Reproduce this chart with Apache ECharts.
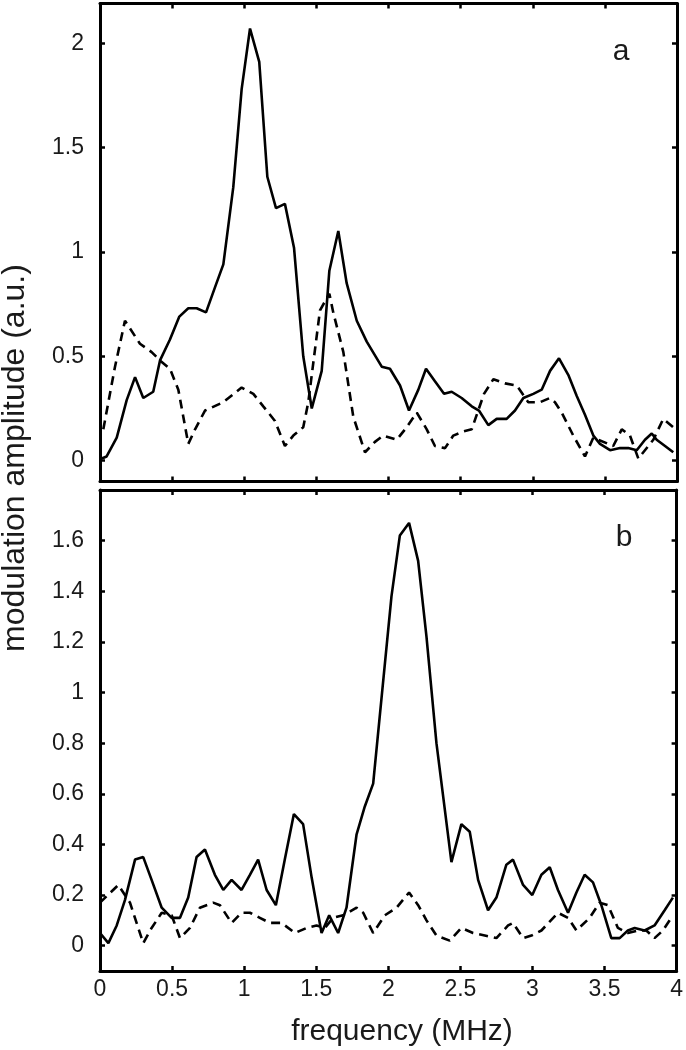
<!DOCTYPE html>
<html>
<head>
<meta charset="utf-8">
<script src="https://cdn.jsdelivr.net/npm/echarts@6/dist/echarts.min.js"></script>
<style>
  html, body { margin: 0; padding: 0; background: #fff; }
  #chart { width: 686px; height: 1050px; }
</style>
</head>
<body>
<div id="chart"></div>
<script>
// panel a, solid trace
const aSolidX = [0.012, 0.046, 0.116, 0.185, 0.243, 0.300, 0.369, 0.416, 0.485, 0.550, 0.612, 0.670, 0.735, 0.797, 0.855, 0.924, 0.982, 1.040, 1.104, 1.160, 1.220, 1.282, 1.345, 1.409, 1.468, 1.537, 1.590, 1.652, 1.710, 1.780, 1.849, 1.953, 2.010, 2.080, 2.142, 2.207, 2.260, 2.322, 2.385, 2.438, 2.507, 2.577, 2.627, 2.692, 2.750, 2.819, 2.877, 2.935, 3.004, 3.062, 3.120, 3.182, 3.247, 3.305, 3.362, 3.420, 3.466, 3.536, 3.605, 3.662, 3.721, 3.778, 3.825, 3.859, 3.917, 3.974]
const aSolidY = [0.01, 0.02, 0.11, 0.29, 0.40, 0.30, 0.33, 0.48, 0.58, 0.69, 0.73, 0.73, 0.71, 0.83, 0.94, 1.31, 1.78, 2.07, 1.91, 1.36, 1.21, 1.23, 1.02, 0.50, 0.25, 0.43, 0.91, 1.10, 0.85, 0.67, 0.57, 0.45, 0.44, 0.36, 0.24, 0.34, 0.44, 0.38, 0.32, 0.33, 0.30, 0.26, 0.24, 0.17, 0.20, 0.20, 0.24, 0.30, 0.32, 0.34, 0.43, 0.49, 0.41, 0.31, 0.22, 0.12, 0.08, 0.05, 0.06, 0.06, 0.05, 0.10, 0.13, 0.10, 0.07, 0.04]

// panel a, dashed trace
const aDashX = [0.023, 0.104, 0.173, 0.277, 0.358, 0.416, 0.485, 0.543, 0.612, 0.659, 0.728, 0.855, 0.982, 1.063, 1.132, 1.213, 1.282, 1.340, 1.409, 1.444, 1.525, 1.590, 1.617, 1.687, 1.756, 1.837, 1.906, 1.964, 2.057, 2.126, 2.196, 2.265, 2.322, 2.392, 2.449, 2.519, 2.577, 2.662, 2.727, 2.808, 2.889, 2.969, 3.050, 3.120, 3.154, 3.201, 3.281, 3.362, 3.420, 3.558, 3.617, 3.674, 3.732, 3.836, 3.905, 3.974]
const aDashY = [0.15, 0.45, 0.67, 0.56, 0.52, 0.48, 0.44, 0.34, 0.08, 0.15, 0.24, 0.28, 0.35, 0.32, 0.26, 0.19, 0.07, 0.12, 0.16, 0.28, 0.72, 0.80, 0.71, 0.52, 0.21, 0.04, 0.09, 0.12, 0.10, 0.16, 0.23, 0.15, 0.07, 0.06, 0.12, 0.14, 0.15, 0.32, 0.39, 0.37, 0.36, 0.28, 0.28, 0.30, 0.28, 0.23, 0.12, 0.02, 0.11, 0.07, 0.15, 0.12, 0.01, 0.10, 0.20, 0.16]

// panel b, solid trace
const bSolidX = [0.000, 0.058, 0.116, 0.173, 0.243, 0.300, 0.358, 0.428, 0.497, 0.555, 0.612, 0.670, 0.728, 0.797, 0.855, 0.913, 0.982, 1.040, 1.097, 1.156, 1.220, 1.282, 1.345, 1.409, 1.468, 1.537, 1.590, 1.652, 1.710, 1.780, 1.837, 1.895, 2.022, 2.080, 2.144, 2.207, 2.265, 2.334, 2.438, 2.507, 2.565, 2.623, 2.692, 2.750, 2.819, 2.865, 2.935, 2.999, 3.062, 3.120, 3.177, 3.247, 3.305, 3.362, 3.420, 3.478, 3.547, 3.605, 3.662, 3.709, 3.778, 3.847, 3.917, 3.974]
const bSolidY = [0.05, 0.01, 0.08, 0.18, 0.34, 0.35, 0.26, 0.15, 0.11, 0.11, 0.19, 0.35, 0.38, 0.28, 0.22, 0.26, 0.22, 0.28, 0.34, 0.22, 0.16, 0.34, 0.52, 0.48, 0.27, 0.05, 0.12, 0.05, 0.15, 0.44, 0.55, 0.64, 1.38, 1.62, 1.67, 1.52, 1.22, 0.80, 0.33, 0.48, 0.45, 0.26, 0.14, 0.19, 0.32, 0.34, 0.24, 0.20, 0.28, 0.31, 0.22, 0.13, 0.21, 0.28, 0.25, 0.16, 0.03, 0.03, 0.06, 0.07, 0.06, 0.08, 0.14, 0.19]

// panel b, dashed trace
const bDashX = [0.000, 0.127, 0.208, 0.300, 0.358, 0.428, 0.497, 0.555, 0.624, 0.693, 0.785, 0.832, 0.913, 0.982, 1.040, 1.109, 1.178, 1.260, 1.352, 1.433, 1.502, 1.560, 1.617, 1.687, 1.780, 1.826, 1.895, 1.976, 2.057, 2.144, 2.207, 2.265, 2.334, 2.426, 2.507, 2.588, 2.669, 2.750, 2.831, 2.865, 2.935, 2.993, 3.062, 3.177, 3.247, 3.305, 3.397, 3.466, 3.524, 3.593, 3.662, 3.732, 3.790, 3.847, 3.905, 3.963]
const bDashY = [0.17, 0.24, 0.17, 0.01, 0.07, 0.13, 0.12, 0.03, 0.07, 0.15, 0.17, 0.16, 0.09, 0.13, 0.13, 0.11, 0.09, 0.09, 0.05, 0.07, 0.08, 0.07, 0.11, 0.12, 0.15, 0.13, 0.05, 0.12, 0.15, 0.21, 0.16, 0.10, 0.04, 0.02, 0.07, 0.05, 0.04, 0.03, 0.08, 0.09, 0.03, 0.04, 0.06, 0.13, 0.11, 0.06, 0.11, 0.17, 0.16, 0.07, 0.05, 0.06, 0.06, 0.03, 0.06, 0.11]

const xTicks = [0, 0.5, 1, 1.5, 2, 2.5, 3, 3.5, 4]
const aTicks = [0, 0.5, 1, 1.5, 2]
const bTicks = [0, 0.2, 0.4, 0.6, 0.8, 1, 1.2, 1.4, 1.6]

const FONT = 'Liberation Sans'
const INK = '#1a1a1a'

const pairs = (xs, ys) => xs.map((x, i) => [x, ys[i]])

function xAxis(grid, pos, labels) {
  return {
    type: 'value', gridIndex: grid, position: pos,
    min: 0, max: 4, interval: 0.5,
    axisLine: { show: true, onZero: false, lineStyle: { color: '#000', width: 3 } },
    axisTick: { show: true, inside: true, length: 5, lineStyle: { color: '#000', width: 2.5 } },
    axisLabel: { show: labels, margin: 7, fontSize: 23, fontFamily: FONT, color: INK },
    splitLine: { show: false }
  }
}

function yAxis(grid, pos, min, max, ticks, labels) {
  return {
    type: 'value', gridIndex: grid, position: pos,
    min: min, max: max,
    axisLine: { show: true, onZero: false, lineStyle: { color: '#000', width: 3 } },
    axisTick: { show: true, inside: true, length: 5, customValues: ticks, lineStyle: { color: '#000', width: 2.5 } },
    axisLabel: { show: labels, customValues: ticks, margin: 16, fontSize: 23, fontFamily: FONT, color: INK },
    splitLine: { show: false }
  }
}

function trace(xs, ys, xi, yi, dashed) {
  return {
    type: 'line', xAxisIndex: xi, yAxisIndex: yi,
    data: pairs(xs, ys),
    showSymbol: false, symbol: 'none',
    lineStyle: { color: '#000', width: 2.6, type: dashed ? [9, 6] : 'solid' }
  }
}

const chart = echarts.init(document.getElementById('chart'))
chart.setOption({
  animation: false,
  backgroundColor: '#fff',
  grid: [
    { left: 100, top: 3.5, width: 577, height: 478 },
    { left: 100, top: 490, width: 577, height: 481 }
  ],
  xAxis: [
    xAxis(0, 'bottom', false),
    xAxis(0, 'top', false),
    xAxis(1, 'bottom', true),
    xAxis(1, 'top', false)
  ],
  yAxis: [
    yAxis(0, 'left', -0.1, 2.19, aTicks, true),
    yAxis(0, 'right', -0.1, 2.19, aTicks, false),
    yAxis(1, 'left', -0.1, 1.8, bTicks, true),
    yAxis(1, 'right', -0.1, 1.8, bTicks, false)
  ],
  series: [
    trace(aSolidX, aSolidY, 0, 0, false),
    trace(aDashX, aDashY, 0, 0, true),
    trace(bSolidX, bSolidY, 2, 2, false),
    trace(bDashX, bDashY, 2, 2, true)
  ],
  graphic: [
    {
      type: 'text', x: 15, y: 458, rotation: Math.PI / 2,
      style: { text: 'modulation amplitude (a.u.)', fontSize: 32, fontFamily: FONT, fill: INK, align: 'center', verticalAlign: 'middle' }
    },
    {
      type: 'text', x: 402, y: 1032,
      style: { text: 'frequency (MHz)', fontSize: 30, fontFamily: FONT, fill: INK, align: 'center', verticalAlign: 'middle' }
    },
    {
      type: 'text', x: 621, y: 52,
      style: { text: 'a', fontSize: 30, fontFamily: FONT, fill: INK, align: 'center', verticalAlign: 'middle' }
    },
    {
      type: 'text', x: 624, y: 538,
      style: { text: 'b', fontSize: 30, fontFamily: FONT, fill: INK, align: 'center', verticalAlign: 'middle' }
    }
  ]
})
window.addEventListener('resize', () => chart.resize())
</script>
</body>
</html>
